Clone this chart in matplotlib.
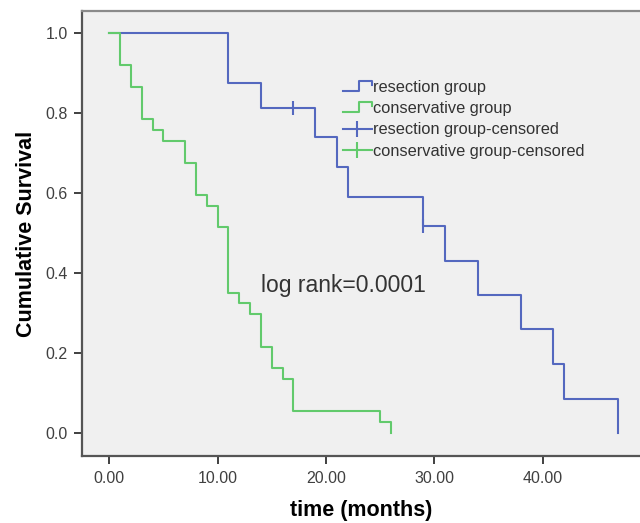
import matplotlib
matplotlib.use('Agg')
import matplotlib.pyplot as plt
from matplotlib.lines import Line2D
from matplotlib.legend_handler import HandlerBase

plt.rcParams['font.family'] = ['Liberation Sans', 'DejaVu Sans']

# %% Data
res_time = [0, 11, 14, 19, 21, 22, 29, 31, 34, 38, 41, 42, 47]
res_surv = [1.0, 0.875, 0.813, 0.739, 0.665, 0.591, 0.517, 0.431, 0.345, 0.259, 0.172, 0.086, 0.0]
res_cens_time = [17, 29]
res_cens_surv = [0.813, 0.517]

con_time = [0, 1, 2, 3, 4, 5, 7, 8, 9, 10, 11, 12, 13, 14, 15, 16, 17, 25, 26]
con_surv = [1.0, 0.919, 0.865, 0.784, 0.757, 0.730, 0.676, 0.595, 0.568, 0.514,
            0.351, 0.324, 0.297, 0.216, 0.162, 0.135, 0.054, 0.027, 0.0]

x_ticks = [0, 10, 20, 30, 40]
x_labels = ['0.00', '10.00', '20.00', '30.00', '40.00']
y_ticks = [0.0, 0.2, 0.4, 0.6, 0.8, 1.0]
y_labels = ['0.0', '0.2', '0.4', '0.6', '0.8', '1.0']

blue = '#5468bf'
green = '#62ca6c'
lw = 1.5


class StepHandler(HandlerBase):
    '''little step drawn as the legend key, like SPSS does'''
    def create_artists(self, legend, orig_handle, xdescent, ydescent,
                       width, height, fontsize, trans):
        x0 = -xdescent
        y0 = -ydescent
        lo = y0 + 0.1 * height
        hi = y0 + 0.95 * height
        xs = [x0, x0 + 0.55 * width, x0 + 0.55 * width, x0 + width, x0 + width]
        ys = [lo, lo, hi, hi, y0 + 0.6 * height]
        ln = Line2D(xs, ys, color=orig_handle.get_color(), lw=lw)
        ln.set_transform(trans)
        return [ln]


# %% Plot
fig = plt.figure(figsize=(6.4, 5.23), dpi=100)
ax = fig.add_axes([0.1277, 0.128, 0.8723, 0.851])
ax.set_facecolor('#f0f0f0')

res_line, = ax.step(res_time, res_surv, where='post', color=blue, lw=lw)
con_line, = ax.step(con_time, con_surv, where='post', color=green, lw=lw)
ax.plot(res_cens_time, res_cens_surv, ls='none', marker='|', ms=10, mew=lw, color=blue)

ax.set_xlim(-2.55, 49.0)
ax.set_ylim(-0.0575, 1.055)
ax.set_xticks(x_ticks)
ax.set_xticklabels(x_labels)
ax.set_yticks(y_ticks)
ax.set_yticklabels(y_labels)
ax.tick_params(direction='out', length=6, width=1.4, colors='#404040',
               labelsize=11.5, pad=4)
ax.tick_params(axis='x', pad=4.5)

for side in ['left', 'bottom', 'top']:
    ax.spines[side].set_color('#555555')
    ax.spines[side].set_linewidth(1.6)
ax.spines['top'].set_color('#8a8a8a')
ax.spines['right'].set_visible(False)

ax.set_xlabel('time (months)', fontsize=15.5, fontweight='bold', labelpad=10)
ax.set_ylabel('Cumulative Survival', fontsize=15.5, fontweight='bold', labelpad=6)

ax.text(14.0, 0.37, 'log rank=0.0001', fontsize=16.5, color='#333333',
        va='center', ha='left')

res_cens_key = Line2D([], [], color=blue, lw=lw, marker='|', ms=11, mew=lw)
con_cens_key = Line2D([], [], color=green, lw=lw, marker='|', ms=11, mew=lw)
leg = ax.legend([res_line, con_line, res_cens_key, con_cens_key],
                ['resection group', 'conservative group',
                 'resection group-censored', 'conservative group-censored'],
                handler_map={res_line: StepHandler(), con_line: StepHandler()},
                loc='upper left', bbox_to_anchor=(343 / 640, 1 - 80 / 523),
                bbox_transform=fig.transFigure, frameon=False,
                fontsize=11.8, handlelength=1.75, handletextpad=0.1,
                labelspacing=0.38, borderpad=0, borderaxespad=0)
for t in leg.get_texts():
    t.set_color('#333333')

fig.savefig('out.png', dpi=100, facecolor='white')
